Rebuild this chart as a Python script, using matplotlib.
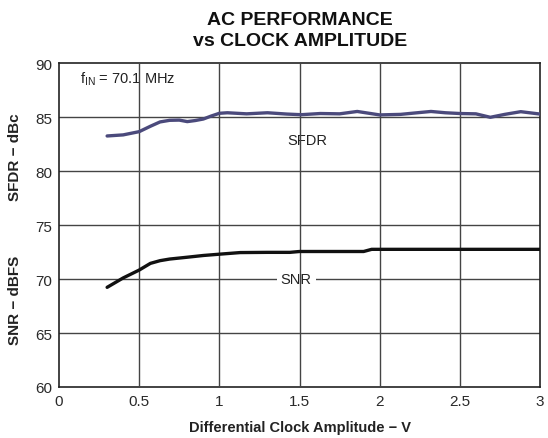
import matplotlib
matplotlib.use("Agg")
import matplotlib.pyplot as plt

plt.rcParams['font.family'] = ['Liberation Sans', 'DejaVu Sans']

# SFDR (dBc) vs differential clock amplitude (V)
sfdr_x = [0.30, 0.40, 0.50, 0.57, 0.63, 0.69, 0.75, 0.80, 0.85, 0.90, 0.95, 1.00, 1.05,
          1.17, 1.30, 1.42, 1.51, 1.63, 1.75, 1.86, 2.00, 2.13, 2.22, 2.32, 2.41, 2.50,
          2.60, 2.69, 2.78, 2.88, 3.00]
sfdr_y = [83.25, 83.35, 83.65, 84.15, 84.55, 84.70, 84.72, 84.58, 84.68, 84.82, 85.10, 85.35, 85.40,
          85.30, 85.40, 85.28, 85.22, 85.33, 85.30, 85.52, 85.20, 85.25, 85.38, 85.52, 85.40, 85.33,
          85.30, 84.98, 85.25, 85.50, 85.28]

# SNR (dBFS)
snr_x = [0.30, 0.40, 0.50, 0.57, 0.63, 0.69, 0.80, 0.90, 1.00, 1.13, 1.30, 1.44, 1.50,
         1.70, 1.90, 1.95, 2.20, 2.50, 2.80, 3.00]
snr_y = [69.23, 70.10, 70.83, 71.45, 71.70, 71.85, 72.02, 72.18, 72.30, 72.45, 72.47, 72.47, 72.55,
         72.55, 72.55, 72.75, 72.75, 72.75, 72.75, 72.75]

xticks = [0, 0.5, 1, 1.5, 2, 2.5, 3]
xticklabels = ['0', '0.5', '1', '1.5', '2', '2.5', '3']
yticks = [60, 65, 70, 75, 80, 85, 90]

fig = plt.figure(figsize=(5.48, 4.39), dpi=100)
ax = fig.add_axes([0.1077, 0.1162, 0.8777, 0.7378])

ax.set_xlim(0, 3)
ax.set_ylim(60, 90)
ax.set_xticks(xticks)
ax.set_xticklabels(xticklabels)
ax.set_yticks(yticks)
ax.tick_params(length=0, labelsize=11, labelcolor='#2a2a2a', pad=5)

# horizontal grid under the labels, vertical grid on top
for y in yticks[1:-1]:
    ax.axhline(y, color='#444444', lw=1.0, zorder=1)
for x in xticks[1:-1]:
    ax.axvline(x, color='#444444', lw=1.0, zorder=4)

for s in ax.spines.values():
    s.set_color('#222222')
    s.set_linewidth(1.2)

ax.plot(sfdr_x, sfdr_y, color='#4b4a7c', lw=2.4, zorder=5, solid_capstyle='round')
ax.plot(snr_x, snr_y, color='#111111', lw=2.4, zorder=5, solid_capstyle='round')

ax.text(1.55, 82.9, 'SFDR', ha='center', va='center', fontsize=10.5, color='#222222', zorder=3)
ax.text(1.48, 70.0, 'SNR', ha='center', va='center', fontsize=10.5, color='#222222', zorder=3,
        bbox=dict(facecolor='white', edgecolor='none', pad=3))
ax.text(0.13, 88.6, r'f$_{\mathregular{IN}}$ = 70.1 MHz', ha='left', va='center', fontsize=10.5,
        color='#222222', zorder=3)

ax.set_xlabel('Differential Clock Amplitude − V', fontsize=10.5, fontweight='bold', color='#222222', labelpad=9)
fig.text(0.028, 0.643, 'SFDR − dBc', rotation=90, ha='center', va='center', fontsize=11,
         fontweight='bold', color='#222222')
fig.text(0.028, 0.315, 'SNR − dBFS', rotation=90, ha='center', va='center', fontsize=11,
         fontweight='bold', color='#222222')

fig.text(0.547, 0.929, 'AC PERFORMANCE\nvs CLOCK AMPLITUDE', ha='center', va='center',
         fontsize=14, fontweight='bold', color='#111111', linespacing=1.3)

fig.savefig('out.png', dpi=100)
